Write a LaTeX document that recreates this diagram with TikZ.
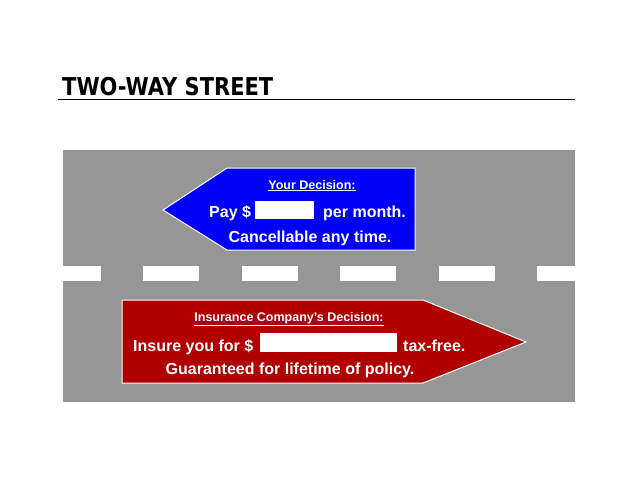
\documentclass[tikz,border=0pt]{standalone}
\usepackage{fontspec}
\setmainfont{Liberation Sans}
\newfontfamily\titlefont{DejaVu Sans}
\usetikzlibrary{positioning}
\definecolor{roadgray}{RGB}{150,150,150}
\definecolor{leftblue}{RGB}{0,0,250}
\definecolor{rightred}{RGB}{176,0,0}
\tikzstyle{sign} = [draw=white, line width=1pt]
\tikzstyle{label} = [inner sep=0pt, text=white, font=\bfseries\fontsize{16}{18}\selectfont]
\tikzstyle{heading} = [inner sep=0pt, text=white, font=\bfseries\fontsize{12.5}{14}\selectfont]
\tikzstyle{blank} = [rectangle, fill=white, inner sep=0pt]

\begin{document}
\begin{tikzpicture}[x=1pt, y=-1pt]
    \useasboundingbox (0,0) rectangle (638,493);

    % title and rule
    \node (title) [anchor=base west, inner sep=0pt, font=\titlefont\bfseries\fontsize{21}{24}\selectfont] at (62,95) {\scalebox{1}[1.17]{TWO-WAY STREET}};
    \draw [line width=1.5pt] (58,99.5) -- (575,99.5);

    % the road
    \fill [roadgray] (63,150) rectangle (575,402);
    \begin{scope}
        \clip (63,150) rectangle (575,402);
        \foreach \x in {44.5,143,241.5,340,438.5,537}
            \fill [white] (\x,266) rectangle ++(56,15);
    \end{scope}

    % your decision (to the left)
    \filldraw [sign, fill=leftblue] (163,210) -- (227,168) -- (415,168) -- (415,250) -- (227,250) -- cycle;
    \node (yourhead) [heading, anchor=base] at (312,189) {\underline{Your Decision:}};
    \node (pay) [label, anchor=base west] at (209,217) {Pay \$};
    \node (paybox) [blank, minimum width=59pt, minimum height=18pt, anchor=north west] at (255,201) {};
    \node (month) [label, anchor=base west] at (323,217) {per month.};
    \node (cancel) [label, anchor=base] at (310,242) {Cancellable any time.};

    % insurance company's decision (to the right)
    \filldraw [sign, fill=rightred] (122,300) -- (423,300) -- (526,342) -- (423,383) -- (122,383) -- cycle;
    \node (comphead) [heading, anchor=base] at (289,321) {\underline{Insurance Company’s Decision:}};
    \node (insure) [label, anchor=base west] at (133,351) {Insure you for \$};
    \node (insbox) [blank, minimum width=137pt, minimum height=19pt, anchor=north west] at (260,333) {};
    \node (taxfree) [label, anchor=base west] at (403,351) {tax-free.};
    \node (lifetime) [label, anchor=base] at (290,374) {Guaranteed for lifetime of policy.};
\end{tikzpicture}
\end{document}
